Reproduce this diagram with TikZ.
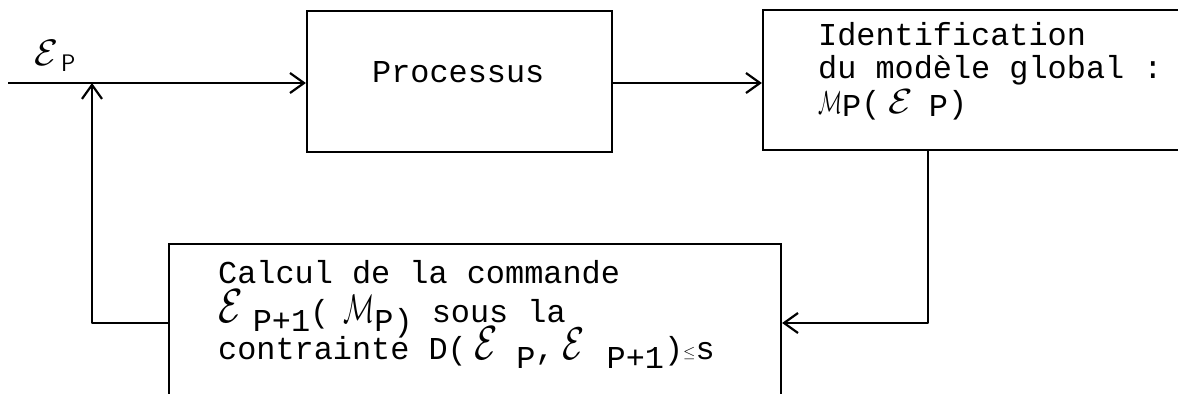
\documentclass[tikz,border=0pt]{standalone}
\usepackage{fontspec}
\usepackage{graphicx}
\setmainfont{Liberation Mono}
\usetikzlibrary{arrows.meta}

% handwritten-style script letters (scaled from 10pt math) and lowered indices
\newcommand\scE[2]{\scalebox{#1}[#2]{\normalsize$\mathcal{E}$}}
\newcommand\scM[2]{\scalebox{#1}[#2]{\normalsize$\mathcal{M}$}}
\newcommand\lo[2][9bp]{\raisebox{-#1}{#2}}

\begin{document}
\begin{tikzpicture}[x=1bp,y=-1bp,
  wire/.style={line width=2.2bp, line join=round},
  arr/.style={wire, -{Straight Barb[length=14bp,width=20bp]}},
  box/.style={draw, line width=2.2bp, rectangle, inner sep=0pt},
  txt/.style={anchor=base west, inner sep=0pt, font=\fontsize{32}{34}\selectfont}]

\useasboundingbox (0,0) rectangle (1178,393);
\clip (0,0) rectangle (1178,393);

% blocks
\node[box, minimum width=305bp, minimum height=141bp] (proc) at (459.5,81.5) {};
\node[box, minimum width=460bp, minimum height=140bp] (ident) at (993,80) {};
\node[box, minimum width=612bp, minimum height=200bp] (calc) at (475,344) {};

% block texts
\node[txt] (proctx) at (372,82) {Processus};

\node[txt] (id1) at (818,45) {Identification};
\node[txt] (id2) at (818,78) {du modèle global :};
\node[txt] (id3) at (818,113) {\scM{2.0}{3.2}\lo[3bp]{P}(\hspace{8bp}\scE{4.0}{3.5}\hspace{16bp}\lo[3bp]{P})};

\node[txt] (c1) at (218,283) {Calcul de la commande};
\node[txt] (c2) at (218,322) {\scE{4.0}{4.8}\hspace{10bp}\lo{P+1}(\hspace{14bp}\scM{2.6}{4.0}\lo{P)} sous la};
\node[txt] (c3) at (218,359) {contrainte D(\hspace{8bp}\scE{3.8}{4.8}\hspace{18bp}\lo{P},\hspace{8bp}\scE{3.6}{4.6}\hspace{22bp}\lo{P+1})\raisebox{2bp}{\normalsize\scalebox{1.6}{$\leq$}}s};

% input label
\node[anchor=base west, inner sep=0pt] (lab) at (34,65)
  {\scE{3.9}{3.7}\hspace{3bp}{\fontsize{24}{24}\sffamily\raisebox{-6bp}{P}}};

% connectors
\coordinate (src) at (8,83);
\coordinate (join) at (92,83);
\draw[arr] (src) -- (src -| proc.west);
\draw[arr] (proc.east |- src) -- (ident.west |- src);
\draw[arr] ([xshift=166bp]ident.south west) |- ([yshift=21bp]calc.east);
\draw[arr] ([yshift=21bp]calc.west) -| (join);
\end{tikzpicture}
\end{document}
